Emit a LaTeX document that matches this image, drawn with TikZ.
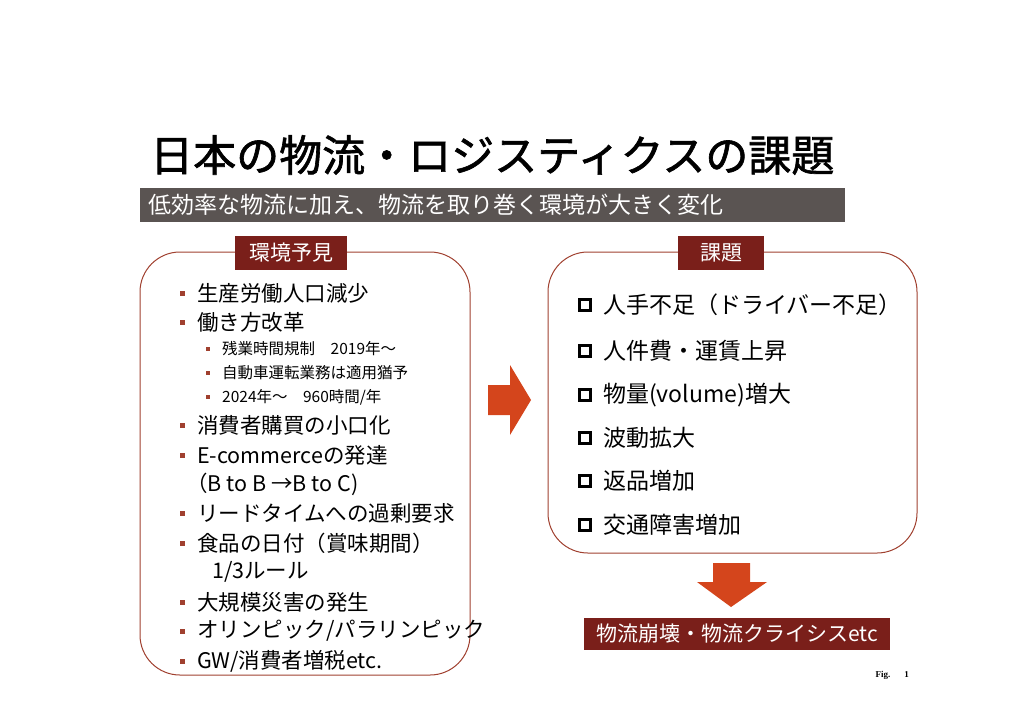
\documentclass[tikz,border=0pt]{standalone}
\usepackage{fontspec}
\setmainfont{Liberation Serif}
\newfontfamily\cjk{Noto Sans CJK JP}
\definecolor{dred}{HTML}{7A1F1A}
\definecolor{bord}{HTML}{A0402F}
\definecolor{orng}{HTML}{D4451C}
\definecolor{bann}{HTML}{5A5452}
\begin{document}
\begin{tikzpicture}[x=1pt,y=-1pt,
  it/.style={anchor=west,inner sep=0pt,font=\cjk\fontsize{21.5}{22}\selectfont},
  rit/.style={anchor=west,inner sep=0pt,font=\cjk\fontsize{23}{24}\selectfont},
  sit/.style={anchor=west,inner sep=0pt,font=\cjk\fontsize{15.5}{16}\selectfont},
  bul/.style={fill=bord,minimum size=5pt,inner sep=0pt},
  sbul/.style={fill=bord,minimum size=4pt,inner sep=0pt},
  chk/.style={draw=black,line width=2.6pt,minimum size=11pt,inner sep=0pt},
  lab/.style={fill=dred,text=white,font=\cjk\fontsize{21}{22}\selectfont,inner sep=4pt},
  frame/.style={draw=bord,line width=1pt,rounded corners=40pt},
  arr/.style={fill=orng}]
\useasboundingbox (0,0) rectangle (1024,724);
\node[anchor=west,inner sep=0pt,font=\cjk\fontsize{43}{46}\selectfont\addfontfeatures{FakeBold=1.5}] (title) at (150,155) {日本の物流・ロジスティクスの課題};
\node[fill=bann,text=white,anchor=west,minimum width=705pt,minimum height=34pt,inner sep=0pt,text width=705pt,font=\cjk\fontsize{23}{24}\selectfont] (ban) at (140,205) {\hspace*{8pt}低効率な物流に加え、物流を取り巻く環境が大きく変化};
\draw[frame] (140,252) rectangle (470,675);
\draw[frame] (548,252) rectangle (917,553);
\node[lab,minimum width=112pt,minimum height=34pt] (l1) at (291,253) {環境予見};
\node[lab,minimum width=86pt,minimum height=34pt] (l2) at (721,253) {課題};
\foreach \y/\t in {293/{生産労働人口減少},322/{働き方改革},425/{消費者購買の小口化},455/{E-commerceの発達},513/{リードタイムへの過剰要求},543/{食品の日付（賞味期間）},602/{大規模災害の発生},631/{オリンピック/パラリンピック},661/{GW/消費者増税etc.}}{
  \node[bul] at (182,\y) {};
  \node[it] at (197,\y) {\t};}
\node[it] (bc) at (186,484) {（B to B →B to C)};
\node[it] (r3) at (212,572) {1/3ルール};
\foreach \y/\t in {349/{残業時間規制　2019年～},373/{自動車運転業務は適用猶予},397/{2024年～　960時間/年}}{
  \node[sbul] at (208,\y) {};
  \node[sit] at (222,\y) {\t};}
\foreach \y/\t in {305/{人手不足（ドライバー不足）},351/{人件費・運賃上昇},395/{物量(volume)増大},438/{波動拡大},481/{返品増加},525/{交通障害増加}}{
  \node[chk] at (585,\y) {};
  \node[rit] at (603,\y) {\t};}
\fill[arr] (488,385) -- (510,385) -- (510,365) -- (531,400) -- (510,435) -- (510,415) -- (488,415) -- cycle;
\fill[arr] (713,563) -- (750,563) -- (750,582) -- (767,582) -- (731,607) -- (697,582) -- (713,582) -- cycle;
\node[lab,minimum width=306pt,minimum height=32pt] (crisis) at (737,634) {物流崩壊・物流クライシスetc};
\node[anchor=west,font=\fontsize{9}{10}\selectfont\bfseries] (fig) at (872,675) {Fig.\hspace{14pt}1};
\end{tikzpicture}
\end{document}
